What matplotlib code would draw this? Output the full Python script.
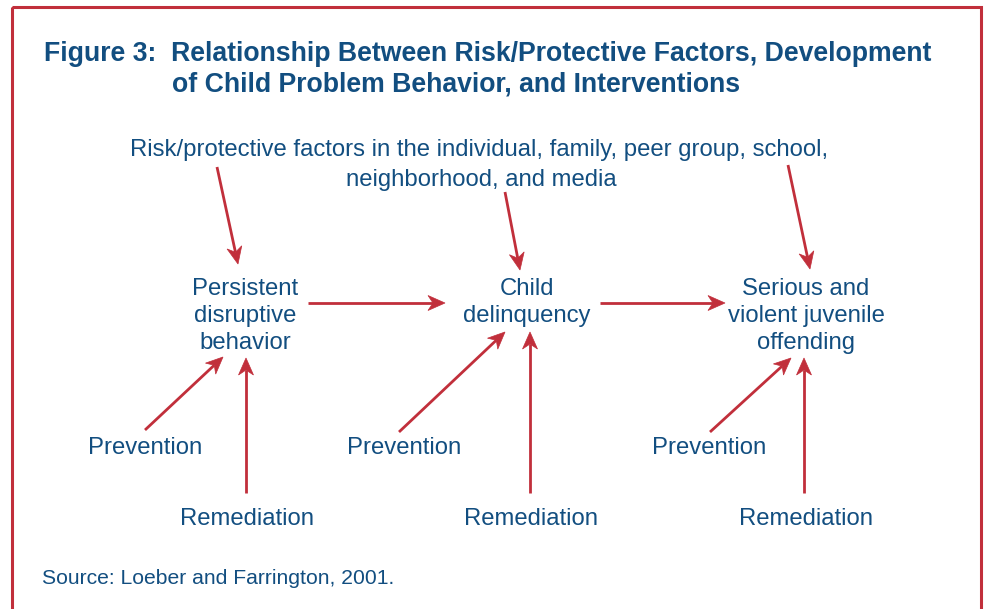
import numpy as np
import matplotlib
matplotlib.use('Agg')
import matplotlib.pyplot as plt
from matplotlib.patches import Polygon, Rectangle

BLUE = '#124e80'
RED = '#c12f3b'

title_lines = ['Figure 3:  Relationship Between Risk/Protective Factors, Development',
               'of Child Problem Behavior, and Interventions']
factors_lines = ['Risk/protective factors in the individual, family, peer group, school,',
                 'neighborhood, and media']
stages = [['Persistent', 'disruptive', 'behavior'],
          ['Child', 'delinquency'],
          ['Serious and', 'violent juvenile', 'offending']]
stage_x = [245, 527, 806]
prevention_x = [145, 404, 709]
remediation_x = [247, 531, 806]
source_text = 'Source: Loeber and Farrington, 2001.'

# arrows: (start, tip) in pixel coordinates
factor_arrows = [((217, 167), (238, 264)), ((505, 192), (520, 270)), ((788, 165), (810, 269))]
stage_arrows = [((308, 303), (445, 303)), ((600, 303), (725, 303))]
prevention_arrows = [((145, 430), (223, 357)), ((399, 432), (505, 332)), ((710, 432), (791, 358))]
remediation_arrows = [((246, 493), (246, 358)), ((530, 493), (530, 332)), ((804, 493), (804, 358))]


def draw_arrow(ax, start, tip, head_len=17, head_w=7.5, notch=5):
    p0 = np.array(start, float)
    p1 = np.array(tip, float)
    d = (p1 - p0) / np.linalg.norm(p1 - p0)
    n = np.array([-d[1], d[0]])
    back = p1 - d * head_len
    inner = p1 - d * (head_len - notch)
    ax.plot([p0[0], inner[0]], [p0[1], inner[1]], color=RED, lw=2.0, solid_capstyle='butt')
    head = [p1, back + n * head_w, inner, back - n * head_w]
    ax.add_patch(Polygon(head, closed=True, facecolor=RED, edgecolor=RED, lw=0.5))


fig = plt.figure(figsize=(9.85, 6.09), dpi=100)
ax = fig.add_axes([0, 0, 1, 1])
ax.set_xlim(0, 985)
ax.set_ylim(609, 0)
ax.axis('off')

plt.rcParams['font.family'] = ['Liberation Sans', 'DejaVu Sans']

ax.add_patch(Rectangle((12, 7), 969, 640, fill=False, edgecolor=RED, lw=2.2))

ax.text(44, 54, title_lines[0], color=BLUE, fontsize=19.2, fontweight='bold', ha='left', va='center')
ax.text(172, 85, title_lines[1], color=BLUE, fontsize=19.2, fontweight='bold', ha='left', va='center')

ax.text(479, 150, factors_lines[0], color=BLUE, fontsize=17.2, ha='center', va='center')
ax.text(481, 180, factors_lines[1], color=BLUE, fontsize=17.2, ha='center', va='center')

for x, lines in zip(stage_x, stages):
    for i, line in enumerate(lines):
        ax.text(x, 289 + 27 * i, line, color=BLUE, fontsize=17.2, ha='center', va='center')

for x in prevention_x:
    ax.text(x, 448, 'Prevention', color=BLUE, fontsize=17.2, ha='center', va='center')
for x in remediation_x:
    ax.text(x, 519, 'Remediation', color=BLUE, fontsize=17.2, ha='center', va='center')

ax.text(42, 578, source_text, color=BLUE, fontsize=15.2, ha='left', va='center')

for start, tip in factor_arrows + stage_arrows + prevention_arrows + remediation_arrows:
    draw_arrow(ax, start, tip)

fig.savefig('out.png', dpi=100)
